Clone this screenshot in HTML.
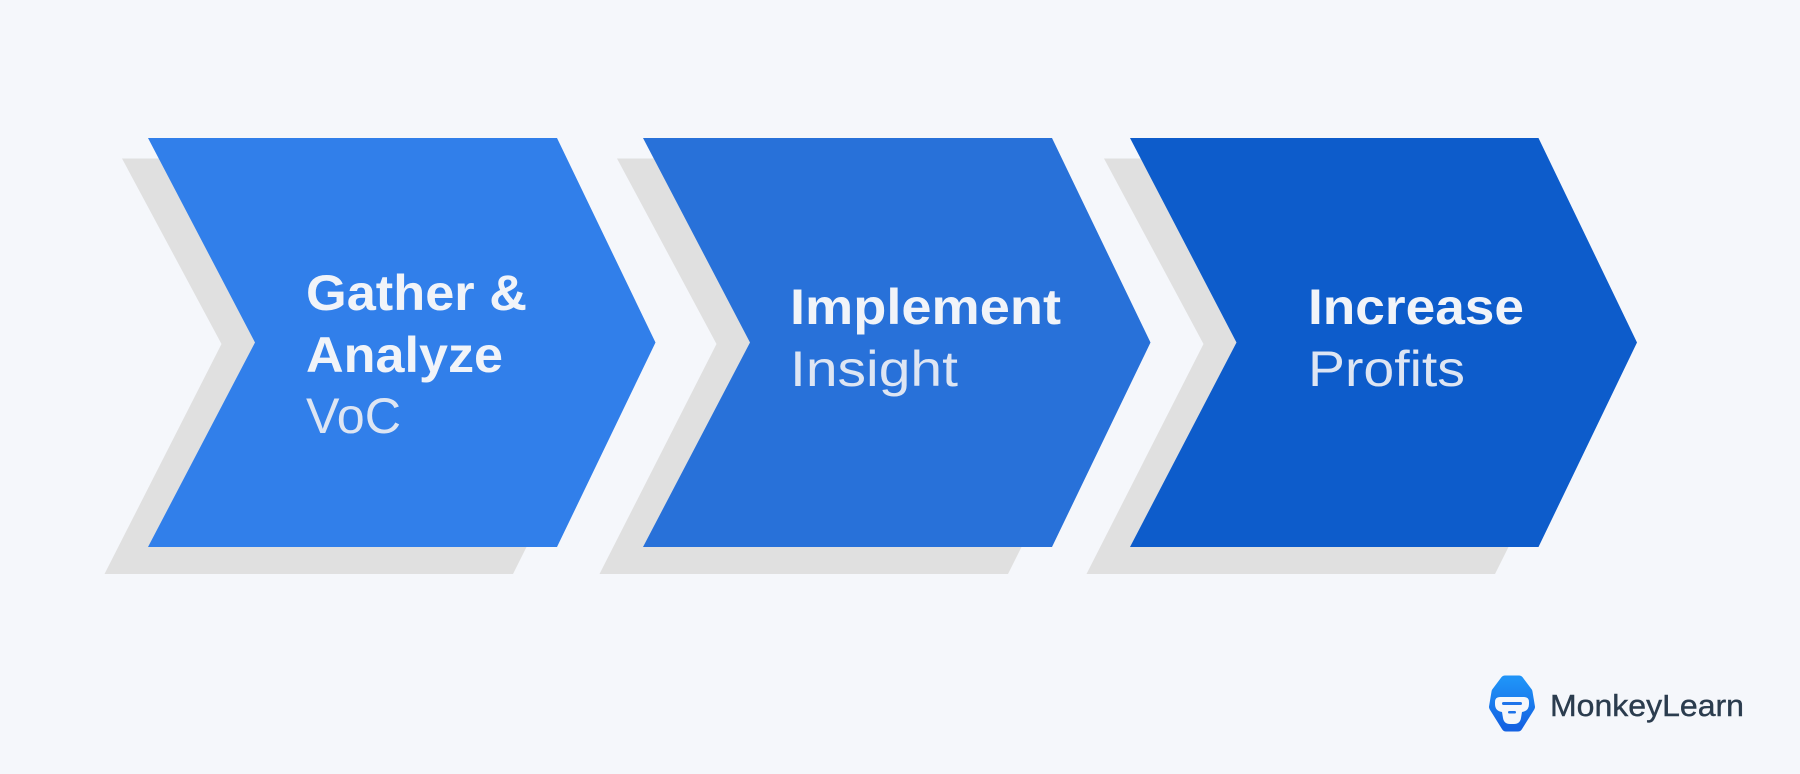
<!DOCTYPE html>
<html lang="en">
<head>
<meta charset="utf-8">
<title>VoC process diagram</title>
<style>
html,body{margin:0;padding:0;width:1800px;height:774px;overflow:hidden;background:#f5f7fb}
svg{display:block}
text{font-family:"Liberation Sans",sans-serif}
.b{font-weight:700;font-size:50px;fill:#f1f4f9}
.r{font-weight:400;font-size:50px;fill:#dde5f3}
</style>
</head>
<body>
<svg width="1800" height="774" viewBox="0 0 1800 774" xmlns="http://www.w3.org/2000/svg">
<defs>
<linearGradient id="lg" x1="0" y1="0" x2="0" y2="1">
<stop offset="0" stop-color="#1f93f7"/>
<stop offset="1" stop-color="#1462e2"/>
</linearGradient>
</defs>
<rect width="1800" height="774" fill="#f5f7fb"/>

<polygon points="122,158.500 400,158.500 527,546 513,574 104.500,574 221.500,344" fill="#e0e0e0"/>
<polygon points="617,158.500 895,158.500 1022,546 1008,574 599.500,574 716.500,344" fill="#e0e0e0"/>
<polygon points="1104,158.500 1382,158.500 1509,546 1495,574 1086.500,574 1203.500,344" fill="#e0e0e0"/>

<polygon points="148,138 557,138 655.500,342.500 557,547 148,547 255,342.500" fill="#317fea"/>
<polygon points="643,138 1052,138 1150.500,342.500 1052,547 643,547 750,342.500" fill="#2871d9"/>
<polygon points="1130,138 1538.500,138 1637,342.500 1538.500,547 1130,547 1236.500,342.500" fill="#0d5ccb"/>

<text class="b" x="306" y="310" textLength="221" lengthAdjust="spacingAndGlyphs">Gather &amp;</text>
<text class="b" x="306" y="372" textLength="197" lengthAdjust="spacingAndGlyphs">Analyze</text>
<text class="r" x="306" y="433" textLength="95" lengthAdjust="spacingAndGlyphs">VoC</text>

<text class="b" x="790" y="324" textLength="271" lengthAdjust="spacingAndGlyphs">Implement</text>
<text class="r" x="790" y="386" textLength="168" lengthAdjust="spacingAndGlyphs">Insight</text>

<text class="b" x="1308" y="324" textLength="216" lengthAdjust="spacingAndGlyphs">Increase</text>
<text class="r" x="1308" y="386" textLength="157" lengthAdjust="spacingAndGlyphs">Profits</text>

<polygon points="1505,680 1519,680 1528,692 1530.500,707 1518,727 1506,727 1493.500,707 1496,692" fill="url(#lg)" stroke="url(#lg)" stroke-width="9" stroke-linejoin="round"/>
<path d="M1500 697 L1524 697 Q1529 697 1529 702 L1529 704 Q1529 711 1522 712 L1521 718 Q1520 724 1514 724 L1510 724 Q1504 724 1503 718 L1502 712 Q1495 711 1495 704 L1495 702 Q1495 697 1500 697 Z" fill="#f5f7fb"/>
<rect x="1502" y="702" width="20" height="3" rx="1.500" fill="#1f74ea"/>
<rect x="1508" y="711" width="8" height="2.500" rx="1.250" fill="#1f74ea"/>
<text x="1550" y="716" font-size="31" fill="#2b3c4e" stroke="#2b3c4e" stroke-width="0.4" textLength="194" lengthAdjust="spacingAndGlyphs">MonkeyLearn</text>
</svg>
</body>
</html>
